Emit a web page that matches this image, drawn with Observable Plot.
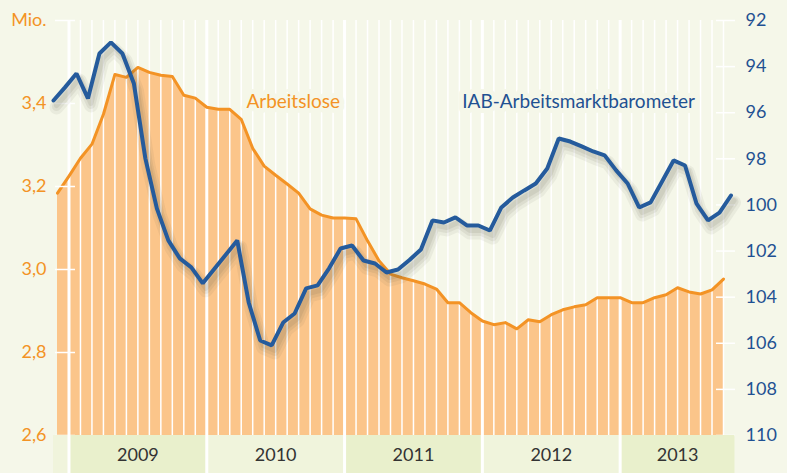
<!DOCTYPE html>
<html>
<head>
<meta charset="utf-8">
<script src="https://cdn.jsdelivr.net/npm/d3@7"></script>
<script src="https://cdn.jsdelivr.net/npm/@observablehq/plot@0.6"></script>
<style>
html, body { margin: 0; padding: 0; background: #f5f7e9; }
#chart svg { display: block; }
</style>
</head>
<body>
<div id="chart"></div>
<script>
// Arbeitslose in Mio. (monthly points, Dec 2008 -> Oct 2013 month index 0..58)
const unemployed = [3.184, 3.225, 3.268, 3.302, 3.374, 3.470, 3.463, 3.487, 3.475, 3.468,
  3.465, 3.420, 3.413, 3.391, 3.386, 3.386, 3.362, 3.292, 3.249, 3.227,
  3.206, 3.184, 3.146, 3.131, 3.124, 3.124, 3.122, 3.069, 3.021, 2.989,
  2.980, 2.973, 2.965, 2.953, 2.920, 2.920, 2.896, 2.876, 2.867, 2.872,
  2.857, 2.879, 2.874, 2.891, 2.903, 2.910, 2.915, 2.932, 2.932, 2.932,
  2.920, 2.920, 2.932, 2.939, 2.956, 2.946, 2.941, 2.951, 2.977];

// IAB-Arbeitsmarktbarometer (right axis, inverted)
const barometer = [95.47, 94.90, 94.30, 95.38, 93.43, 92.95, 93.43, 94.73, 97.98, 100.15,
  101.54, 102.32, 102.71, 103.40, 102.78, 102.16, 101.54, 104.23, 105.88, 106.09,
  105.10, 104.71, 103.62, 103.49, 102.75, 101.89, 101.76, 102.41, 102.54, 102.93,
  102.80, 102.39, 101.93, 100.67, 100.76, 100.54, 100.89, 100.89, 101.11, 100.11,
  99.68, 99.37, 99.07, 98.42, 97.12, 97.25, 97.46, 97.68, 97.85, 98.50,
  99.07, 100.11, 99.89, 98.98, 98.07, 98.29, 99.94, 100.67, 100.33, 99.59];

const leftTicks = [2.6, 2.8, 3.0, 3.2, 3.4, 3.6];
const rightTicks = [92, 94, 96, 98, 100, 102, 104, 106, 108, 110];

const years = ["2009", "2010", "2011", "2012", "2013"];
const yearStart = [1, 13, 25, 37, 49];
const yearEnd = [13, 25, 37, 49, 59];
const yearShade = ["dark", "light", "dark", "light", "dark"];
const preStart = -0.35; // December 2008 (partial band)

const seriesLabels = ["Arbeitslose", "IAB-Arbeitsmarktbarometer"];
const labelX = [16.45, 35.25];
const labelY = [3.403, 3.403];

const BG = "#f5f7e9";
const ORANGE = "#f39325";
const ORANGE_FILL = "#fbc58a";
const BLUE = "#255b9c";
const BLUE_TEXT = "#1f5192";
const DARK_BAND = "#e9f0cc";
const LIGHT_BAND = "#f0f4dc";
const SHADOW = "#5a5a40";

const toLeft = r => 3.6 - (r - 92) / 18;
const monthLines = d3.range(1, unemployed.length);
const bx = (d, i) => i;
const by = d => toLeft(d);

const main = Plot.plot({
  width: 787, height: 435,
  marginLeft: 57, marginRight: 64, marginTop: 20, marginBottom: 0,
  x: {domain: [0, 58], axis: null},
  y: {domain: [2.6, 3.6], axis: null},
  style: {background: BG, fontFamily: "Lato, sans-serif", fontSize: "18px", overflow: "visible"},
  marks: [
    Plot.areaY(unemployed, {x: (d, i) => i, y1: 2.6, y2: d => d, fill: ORANGE_FILL}),
    Plot.ruleX(monthLines, {x: d => d, y1: 2.6, y2: 3.6, stroke: "white", strokeWidth: 1.5}),
    Plot.ruleX(yearStart, {x: d => d, y1: 2.6, y2: 3.6, stroke: "white", strokeWidth: 3}),
    Plot.lineY(unemployed, {x: (d, i) => i, y: d => d, stroke: ORANGE, strokeWidth: 3}),
    Plot.axisY(leftTicks, {anchor: "left", tickSize: 20, dx: 18, tickPadding: 9,
      stroke: "white", strokeWidth: 1.5, fill: ORANGE, label: null,
      tickFormat: d => d === 3.6 ? "Mio." : d.toFixed(1).replace(".", ",")}),
    Plot.axisY(rightTicks.map(toLeft), {anchor: "right", tickSize: 19, dx: -8, tickPadding: 11,
      stroke: "white", strokeWidth: 1.5, fill: BLUE_TEXT, label: null,
      tickFormat: d => String(Math.round(92 + (3.6 - d) * 18))}),
    Plot.text([seriesLabels[0]], {x: [labelX[0]], y: [labelY[0]], text: d => d, textAnchor: "start",
      fill: ORANGE, fontSize: 19, stroke: BG, strokeWidth: 10}),
    Plot.text([seriesLabels[1]], {x: [labelX[1]], y: [labelY[1]], text: d => d, textAnchor: "start",
      fill: BLUE_TEXT, fontSize: 19, stroke: BG, strokeWidth: 10}),
    // soft shadow under the barometer line (layered translucent strokes)
    Plot.lineY(barometer, {x: bx, y: by, dx: -1, dy: 7, stroke: SHADOW, strokeOpacity: 0.07, strokeWidth: 14}),
    Plot.lineY(barometer, {x: bx, y: by, dx: -1, dy: 6, stroke: SHADOW, strokeOpacity: 0.09, strokeWidth: 9}),
    Plot.lineY(barometer, {x: bx, y: by, dx: -1, dy: 5, stroke: SHADOW, strokeOpacity: 0.10, strokeWidth: 5}),
    Plot.lineY(barometer, {x: bx, y: by, dx: -4, stroke: BLUE, strokeWidth: 4, strokeLinejoin: "miter"})
  ]
});

const yearIdx = d3.range(years.length);
const band = Plot.plot({
  width: 787, height: 38,
  marginLeft: 57, marginRight: 64, marginTop: 0, marginBottom: 0,
  x: {domain: [0, 58], axis: null},
  style: {background: BG, fontFamily: "Lato, sans-serif", fontSize: "18px", overflow: "visible"},
  marks: [
    Plot.rect([0], {x1: preStart, x2: yearStart[0], fill: LIGHT_BAND}),
    Plot.rect(yearIdx.filter(i => yearShade[i] === "light"), {x1: i => yearStart[i], x2: i => yearEnd[i], fill: LIGHT_BAND}),
    Plot.rect(yearIdx.filter(i => yearShade[i] === "dark"), {x1: i => yearStart[i], x2: i => yearEnd[i], fill: DARK_BAND}),
    Plot.ruleX(yearStart, {x: d => d, stroke: "white", strokeWidth: 3}),
    Plot.text(yearIdx, {x: i => (yearStart[i] + yearEnd[i]) / 2, text: i => years[i],
      frameAnchor: "middle", fill: "#333333", dy: 1})
  ]
});

const chart = document.getElementById("chart");
chart.appendChild(main);
chart.appendChild(band);
</script>
</body>
</html>
